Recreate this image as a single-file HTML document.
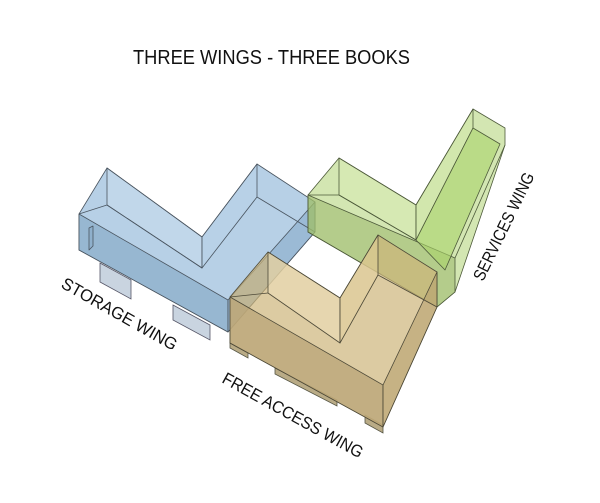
<!DOCTYPE html>
<html><head><style>
html,body{margin:0;padding:0;background:#fff;}
svg{display:block;}
text{font-family:"Liberation Sans",sans-serif;fill:#111;}
</style></head><body>
<svg width="600" height="503" viewBox="0 0 600 503">
<rect width="600" height="503" fill="#fff"/>
<text x="133" y="64" font-size="20" textLength="277" lengthAdjust="spacingAndGlyphs">THREE WINGS - THREE BOOKS</text>

<!-- blue legs -->
<g fill="#c9d4e0" stroke="#556" stroke-width="0.8">
<polygon points="100,263 131,280 131,299 100,282"/>
<polygon points="173,305 210,325 210,340 173,320"/>
</g>
<!-- blue -->
<g stroke="#4a5560" stroke-width="0.8" stroke-linejoin="round">
<polygon points="79,214 107,168 202,237 257,164 315,202 315,232 228,332 79,250" fill="#9fc0dd" fill-opacity="0.75"/>
<polygon points="79,214 228,300 228,332 79,250" fill="#8fb0cc" fill-opacity="0.8"/>
<polygon points="107,168 107,205 202,268 202,237" fill="#c8dcec" fill-opacity="0.6"/>
<polygon points="257,164 257,197 202,268 202,237" fill="#b9d2e8" fill-opacity="0.6"/>
<polygon points="228,300 315,202 315,232 228,332" fill="#7fa4c4" fill-opacity="0.5"/>
<polyline points="79,214 107,205 202,268" fill="none"/>
<polyline points="257,197 315,232" fill="none"/>
<polygon points="89,228 93,226 93,246 89,250" fill="#8fb0cc"/>
</g>

<!-- green -->
<g stroke="#4d5a3a" stroke-width="0.8" stroke-linejoin="round">
<polygon points="308,195 339,158 416,205 473,109 505,128 505,145 455,292 437,307 308,232" fill="#b6d67e" fill-opacity="0.6"/>
<polygon points="308,195 455,258 455,292 437,307 308,232" fill="#8fae5a" fill-opacity="0.45"/>
<polygon points="339,158 339,195 416,240 416,205" fill="#d9ebb4" fill-opacity="0.6"/>
<polygon points="473,109 473,128 416,240 416,205" fill="#d2e8a8" fill-opacity="0.5"/>
<polygon points="416,240 473,128 500,144 445,270" fill="#aad46a" fill-opacity="0.6"/>
<polyline points="308,195 339,195 416,240" fill="none"/>
<polyline points="455,258 505,145" fill="none"/>
</g>

<!-- yellow legs -->
<g fill="#b9ab86" stroke="#554" stroke-width="0.8">
<polygon points="275,368 337,400 337,406 275,374"/>
<polygon points="365,415 383,425 383,433 365,423"/>
<polygon points="230,343 248,353 248,358 230,348"/>
</g>
<!-- yellow -->
<g stroke="#4e4a38" stroke-width="0.8" stroke-linejoin="round">
<polygon points="230,297 268,252 340,298 378,235 437,272 437,307 383,427 230,343" fill="#cdb57a" fill-opacity="0.7"/>
<polygon points="230,297 383,385 383,427 230,343" fill="#b9a477" fill-opacity="0.75"/>
<polygon points="383,385 437,272 437,307 383,427" fill="#b7a170" fill-opacity="0.6"/>
<polygon points="268,252 268,293 340,343 340,298" fill="#f0e2bc" fill-opacity="0.5"/>
<polygon points="378,235 378,275 340,343 340,298" fill="#e4d29e" fill-opacity="0.5"/>
<polyline points="230,297 268,293" fill="none"/>
<polyline points="378,275 437,307" fill="none"/>
</g>

<text font-size="17" transform="translate(60,287) rotate(29.5)" textLength="130" lengthAdjust="spacingAndGlyphs">STORAGE WING</text>
<text font-size="17" transform="translate(221,382) rotate(29)" textLength="158" lengthAdjust="spacingAndGlyphs">FREE ACCESS WING</text>
<text font-size="17" transform="translate(483,282) rotate(-64)" textLength="118" lengthAdjust="spacingAndGlyphs">SERVICES  WING</text>
</svg>
</body></html>
